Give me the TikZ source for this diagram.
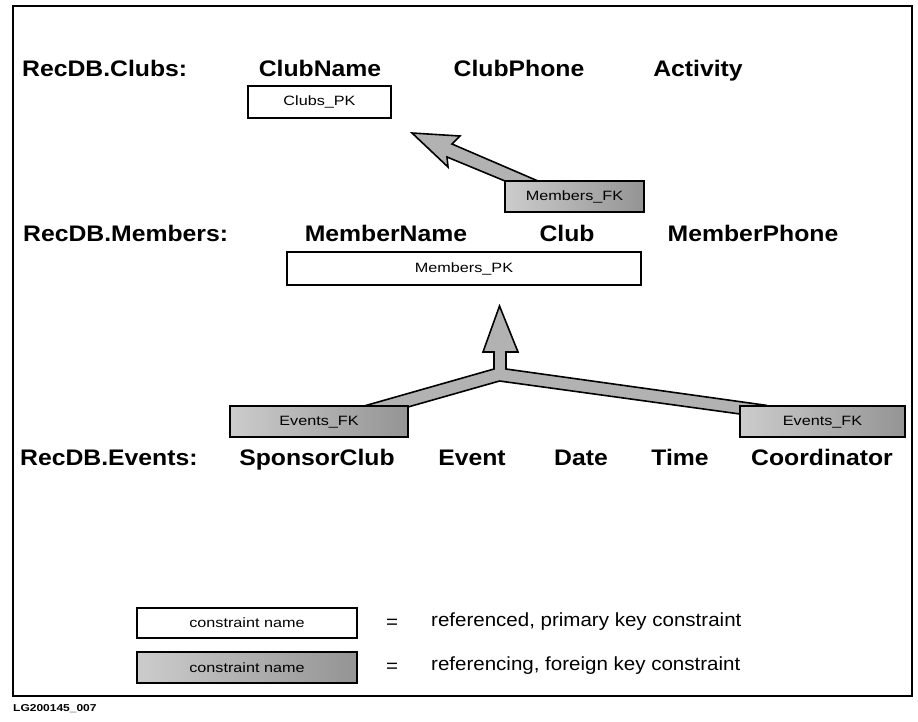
\documentclass[tikz,border=0pt]{standalone}
\usepackage{fontspec}
\setmainfont{Liberation Sans}
\newfontfamily\hdfont{Liberation Sans}[FakeStretch=1.1]
\newfontfamily\smfont{Liberation Sans}[FakeStretch=1.2]
\newfontfamily\lgfont{Liberation Sans}[FakeStretch=1.08]
\begin{document}
\begin{tikzpicture}[x=1pt,y=-1pt,
  hd/.style={font=\hdfont\bfseries\fontsize{22.5}{26}\selectfont, inner sep=0pt, anchor=base},
  hdl/.style={hd, anchor=base west},
  pkbox/.style={draw, line width=1.6pt, fill=white},
  fkbox/.style={draw, line width=1.6pt, left color=black!20, right color=black!42},
  fkbody/.style={draw, line width=1.6pt, fill=black!30, line join=miter},
  lbl/.style={font=\smfont\fontsize{13.5}{15}\selectfont, inner sep=0pt},
  lgt/.style={font=\lgfont\fontsize{19}{22}\selectfont, inner sep=0pt, anchor=base west}]
\useasboundingbox (0,0) rectangle (918,721);
\draw[line width=2pt] (13,6) rectangle (912,696);

% row 1
\node[hdl] (t1) at (22,76) {RecDB.Clubs:};
\node[hd] (c1) at (320,76) {ClubName};
\node[hd] (c2) at (519,76) {ClubPhone};
\node[hd] (c3) at (698,76) {Activity};

% row 2
\node[hdl] (t2) at (23,241) {RecDB.Members:};
\node[hd] (m1) at (386,241) {MemberName};
\node[hd] (m2) at (567,241) {Club};
\node[hd] (m3) at (753,241) {MemberPhone};

% row 3
\node[hdl] (t3) at (20,465) {RecDB.Events:};
\node[hd] (e1) at (317,465) {SponsorClub};
\node[hd] (e2) at (472,465) {Event};
\node[hd] (e3) at (581,465) {Date};
\node[hd] (e4) at (680,465) {Time};
\node[hd] (e5) at (822,465) {Coordinator};

% Members_FK arrow body
\draw[fkbody] (412,133) -- (460,136) -- (452,144) -- (538,181) -- (505,181)
  -- (447,157) -- (448,167) -- cycle;
% Events_FK arrow body
\draw[fkbody] (499.5,306) -- (518,352) -- (506,352) -- (506,369) -- (764,405)
  -- (740,414) -- (499.5,381) -- (408,407) -- (364,406) -- (494,369)
  -- (494,352) -- (483,352) -- cycle;

% boxes
\draw[pkbox] (248,86) rectangle (391,118);
\node[lbl] (cpk) at (319.5,102) {Clubs\_PK};
\draw[fkbox] (505,181) rectangle (644,212);
\node[lbl] (mfk) at (574.5,197) {Members\_FK};
\draw[pkbox] (287,252) rectangle (641,285);
\node[lbl] (mpk) at (464,269) {Members\_PK};
\draw[fkbox] (230,406) rectangle (408,437);
\node[lbl] (efk1) at (319,422) {Events\_FK};
\draw[fkbox] (740,406) rectangle (905,437);
\node[lbl] (efk2) at (822.5,422) {Events\_FK};

% legend
\draw[pkbox] (137,608) rectangle (357,638);
\node[lbl] (l1) at (247,623) {constraint name};
\draw[fkbox] (137,652) rectangle (357,683);
\node[lbl] (l2) at (247,667.5) {constraint name};
\node[lgt] (eq1) at (386,628) {=};
\node[lgt] (eq2) at (386,672) {=};
\node[lgt] (d1) at (431,626) {referenced, primary key constraint};
\node[lgt] (d2) at (431,670) {referencing, foreign key constraint};

\node[font=\smfont\bfseries\fontsize{10}{12}\selectfont, inner sep=0pt, anchor=base west] (id) at (13,711) {LG200145\_007};
\end{tikzpicture}
\end{document}
